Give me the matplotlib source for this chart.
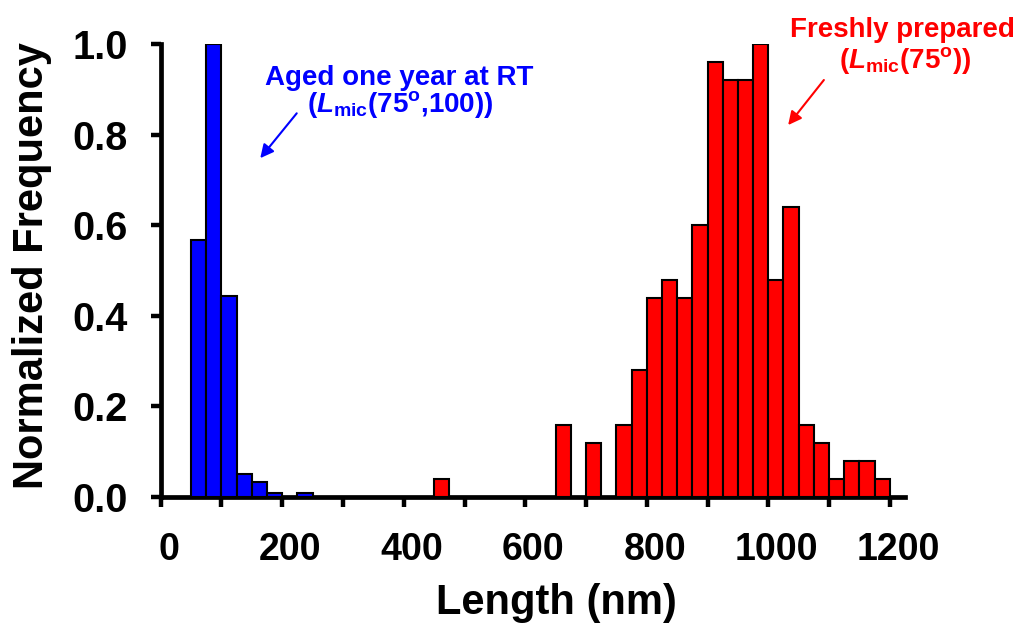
import matplotlib
matplotlib.use("Agg")
import matplotlib.pyplot as plt
from matplotlib.ticker import FuncFormatter
from matplotlib.transforms import ScaledTranslation

# Histogram bins (nm, left edges) and normalized frequencies
bin_width = 25
aged_left = [50, 75, 100, 125, 150, 175, 200, 225]
aged_freq = [0.567, 1.0, 0.443, 0.05, 0.033, 0.008, 0.0, 0.008]

fresh_left = [450, 650, 700, 750, 775, 800, 825, 850, 875, 900, 925, 950,
              975, 1000, 1025, 1050, 1075, 1100, 1125, 1150, 1175]
fresh_freq = [0.04, 0.16, 0.12, 0.16, 0.28, 0.44, 0.48, 0.44, 0.60, 0.96, 0.92,
              0.92, 1.0, 0.48, 0.64, 0.16, 0.12, 0.04, 0.08, 0.08, 0.04]

x_ticks = list(range(0, 1201, 100))
x_labels = ["0", "", "200", "", "400", "", "600", "", "800", "", "1000", "", "1200"]
y_ticks = [0.0, 0.2, 0.4, 0.6, 0.8, 1.0]

plt.rcParams["font.family"] = ["Liberation Sans", "DejaVu Sans"]
plt.rcParams["font.weight"] = "bold"
plt.rcParams["mathtext.fontset"] = "custom"
plt.rcParams["mathtext.rm"] = "Liberation Sans:bold"
plt.rcParams["mathtext.it"] = "Liberation Sans:bold:italic"
plt.rcParams["mathtext.bf"] = "Liberation Sans:bold"

fig = plt.figure(figsize=(10.18, 6.24), dpi=100)
ax = fig.add_axes([0.1579, 0.2035, 0.7311, 0.726])

ax.bar(aged_left, aged_freq, width=bin_width, align="edge",
       color="#0000ff", edgecolor="black", linewidth=1.5, zorder=3)
ax.bar(fresh_left, fresh_freq, width=bin_width, align="edge",
       color="#ff0000", edgecolor="black", linewidth=1.5, zorder=3)

ax.set_xlim(0, 1225)
ax.set_ylim(0, 1.0)
ax.set_xticks(x_ticks)
ax.set_xticklabels(x_labels)
ax.set_yticks(y_ticks)
ax.yaxis.set_major_formatter(FuncFormatter(lambda v, p: f"{v:.1f}"))

for side in ("top", "right"):
    ax.spines[side].set_visible(False)
for side in ("left", "bottom"):
    ax.spines[side].set_linewidth(3.4)
    ax.spines[side].set_capstyle("projecting")

ax.tick_params(axis="both", direction="out", length=7.5, width=3.2,
               colors="black")
ax.tick_params(axis="x", pad=18, labelsize=27)
ax.tick_params(axis="y", pad=16, labelsize=28.5)
shift = ScaledTranslation(8 / 100, 0, fig.dpi_scale_trans)
for lab in ax.get_xticklabels():
    lab.set_transform(lab.get_transform() + shift)
    lab.set_fontweight("bold")
for lab in ax.get_yticklabels():
    lab.set_fontweight("bold")

ax.set_xlabel("Length (nm)", fontsize=30, fontweight="bold")
ax.set_ylabel("Normalized Frequency", fontsize=30, fontweight="bold")
ax.xaxis.set_label_coords(0.532, -0.19)
ax.yaxis.set_label_coords(-0.146, 0.51)

# Annotations
blue = "#0000ff"
red = "#ff0000"
ax.text(0.32, 0.9095, "Aged one year at RT", transform=ax.transAxes,
        ha="center", va="baseline", fontsize=20, fontweight="bold", color=blue)
ax.text(0.322, 0.85, "(" + r"$\mathit{L}_{\mathrm{mic}}$" + "(75" + r"$^{\mathrm{o}}$" + ",100))",
        transform=ax.transAxes, ha="center", va="baseline", fontsize=20,
        fontweight="bold", color=blue)
ax.annotate("", xy=(0.1337, 0.748), xytext=(0.1827, 0.847),
            xycoords="axes fraction", textcoords="axes fraction",
            arrowprops=dict(arrowstyle="-|>", color=blue, lw=1.5, mutation_scale=20,
                            shrinkA=0, shrinkB=0))

ax.text(0.997, 1.016, "Freshly prepared", transform=ax.transAxes,
        ha="center", va="baseline", fontsize=20, fontweight="bold", color=red)
ax.text(1.0, 0.947, "(" + r"$\mathit{L}_{\mathrm{mic}}$" + "(75" + r"$^{\mathrm{o}}$" + "))",
        transform=ax.transAxes, ha="center", va="baseline", fontsize=20,
        fontweight="bold", color=red)
ax.annotate("", xy=(0.843, 0.821), xytext=(0.891, 0.9205),
            xycoords="axes fraction", textcoords="axes fraction",
            arrowprops=dict(arrowstyle="-|>", color=red, lw=1.5, mutation_scale=20,
                            shrinkA=0, shrinkB=0))

fig.savefig("out.png", dpi=100)
